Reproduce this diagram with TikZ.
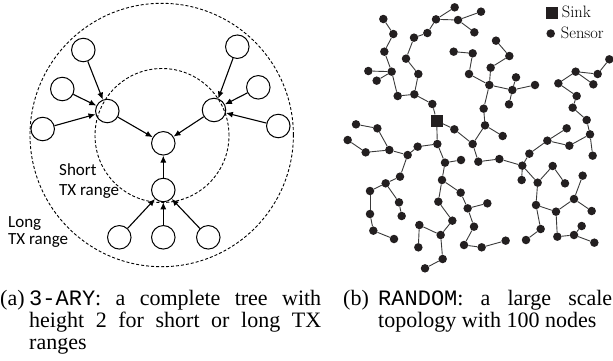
\documentclass[tikz,border=0pt]{standalone}
\usepackage{fontspec}
\setmainfont{Liberation Serif}
\setmonofont{Liberation Mono}
\newfontfamily\carlito{Carlito}
\newfontfamily\lmr{Latin Modern Roman}
\usetikzlibrary{arrows.meta}
\definecolor{dotc}{HTML}{231F20}
\definecolor{edgec}{HTML}{3A3A3A}
\begin{document}
\begin{tikzpicture}[x=1pt,y=-1pt,
  tnode/.style={circle,draw,line width=1pt,minimum size=23.5pt,inner sep=0},
  arr/.style={line width=1.1pt,-{Latex[length=7pt,width=6pt]}},
  txrange/.style={draw,dashed,line width=0.9pt,dash pattern=on 3pt off 2pt},
  lbl/.style={anchor=base west,inner sep=0,font=\carlito\fontsize{17}{17}\selectfont},
  captext/.style={anchor=base west,inner sep=0,font=\fontsize{22}{22}\selectfont},
  sdot/.style={circle,fill=dotc,inner sep=0,minimum size=8.5pt},
  sinkbox/.style={rectangle,fill=dotc,inner sep=0,minimum size=12pt},
  gedge/.style={draw=edgec,line width=0.9pt},
  legtext/.style={anchor=base west,inner sep=0,font=\lmr\fontsize{16.5}{16.5}\selectfont}]
\useasboundingbox (0,0) rectangle (613,360);
% ---------- (a) 3-ARY ----------
\node[circle,txrange,minimum size=263.4pt,inner sep=0] (outer) at (161.7,135) {};
\node[circle,txrange,minimum size=134pt,inner sep=0] (inner) at (162,135.5) {};
\node[tnode] (c) at (163.3,143.3) {};
\node[tnode] (hl) at (107.3,111) {};
\node[tnode] (hr) at (214,110) {};
\node[tnode] (hb) at (163.3,190) {};
\node[tnode] (l1) at (83.3,50) {};
\node[tnode] (l2) at (62.3,89) {};
\node[tnode] (l3) at (42.7,129) {};
\node[tnode] (r1) at (237.3,46.7) {};
\node[tnode] (r2) at (258.3,87.3) {};
\node[tnode] (r3) at (278.3,126) {};
\node[tnode] (b1) at (119.3,237.3) {};
\node[tnode] (b2) at (163.3,237.3) {};
\node[tnode] (b3) at (208.3,237.3) {};
\foreach \a/\b in {l1/hl,l2/hl,l3/hl,r1/hr,r2/hr,r3/hr,b1/hb,b2/hb,b3/hb,hl/c,hr/c,hb/c}
  \draw[arr] (\a) -- (\b);
\node[lbl] (s1) at (59,175) {Short};
\node[lbl] (s2) at (59,195) {TX range};
\node[lbl] (g1l) at (8,227) {Long};
\node[lbl] (g2l) at (8,244) {TX range};
% captions
\node[captext] (ca0) at (0,305) {(a)};
\node[captext] (ca1) at (29,305) {\makebox[292pt][s]{\texttt{3-ARY}: a complete tree with}};
\node[captext] (ca2) at (29,327) {\makebox[292pt][s]{height 2 for short or long TX}};
\node[captext] (ca3) at (29,349) {ranges};
\node[captext] (cb0) at (343,305) {(b)};
\node[captext] (cb1) at (378,305) {\makebox[234pt][s]{\texttt{RANDOM}: a large scale}};
\node[captext] (cb2) at (378,327) {topology with 100 nodes};
% ---------- (b) RANDOM ----------
\node[sinkbox] (legs) at (551.7,12.8) {};
\node[legtext] (legst) at (561.7,17.3) {Sink};
\node[sdot] (legd) at (550.7,33.5) {};
\node[legtext] (legdt) at (560.7,38.3) {Sensor};
\begin{scope}[shift={(320pt,0pt)},x=0.33333pt,y=-0.33333pt]
\node[sinkbox] (gS) at (350,362) {};
\foreach \n/\x/\y in {1/190/57,2/220/102,3/193/155,4/215/215,5/145/213,6/170/242,7/233/288,8/283/283,9/337/312,
 10/295/222,11/258/176,12/282/113,13/322/99,14/348/58,15/404/22,16/414/60,17/483/35,18/463/97,
 19/403/388,20/458/432,21/495/376,22/548/408,23/491/326,24/508/255,25/447/222,26/458/160,27/401/155,
 28/512/203,29/568/168,30/528/122,31/577/270,32/588/232,33/645/255,34/567/313,
 35/868/178,36/767/215,37/833/222,38/820/253,39/715/250,40/770/288,41/758/323,42/800/360,43/810/403,
 44/740/385,45/682/422,46/748/437,47/818/467,48/628/461,49/607/497,50/475/485,51/538/477,
 52/605/540,53/653/548,54/698/498,55/735/550,56/788/527,57/762/597,58/815/633,59/708/635,60/648/615,
 61/662/687,62/618/720,63/712/710,64/762/705,65/785/678,66/823/728,
 67/352/432,68/293/440,69/263/465,70/208/450,71/137/457,72/83/420,73/172/385,74/108/373,
 75/240/530,76/197/550,77/150/573,78/150/642,79/160/692,80/222/717,81/237/607,82/245/648,
 83/375/488,84/423/480,85/366/540,86/422/578,87/443/625,88/355/605,89/397/662,90/298/675,
 91/362/705,92/295/742,93/368/777,94/315/805,95/432/735,96/502/610,97/462/680,98/485/742,99/557/722}
  \node[sdot] (g\n) at (\x,\y) {};
\foreach \a/\b in {1/2,2/3,3/4,4/5,4/6,4/7,7/8,8/9,9/S,8/10,10/11,11/12,12/13,13/14,14/15,14/16,16/17,16/18,
 S/19,19/20,20/21,21/22,21/23,23/24,24/25,25/26,26/27,24/28,28/29,29/30,24/31,31/32,31/33,31/34,
 35/37,37/36,36/38,36/39,39/40,40/41,41/42,42/43,43/47,43/46,46/45,45/44,45/48,48/49,
 20/50,50/51,51/49,49/52,49/53,53/54,54/55,53/60,60/59,59/57,57/56,57/58,59/63,63/64,64/65,64/66,60/61,61/62,
 S/67,67/68,68/69,69/70,70/71,71/72,70/73,73/74,69/75,75/76,76/77,77/78,78/79,79/80,76/81,81/82,
 67/83,83/84,83/85,85/86,86/87,87/96,87/97,97/95,95/98,98/99,85/88,88/89,89/91,91/90,90/92,91/93,93/94}
  \draw[gedge] (g\a) -- (g\b);
\end{scope}
\end{tikzpicture}
\end{document}
